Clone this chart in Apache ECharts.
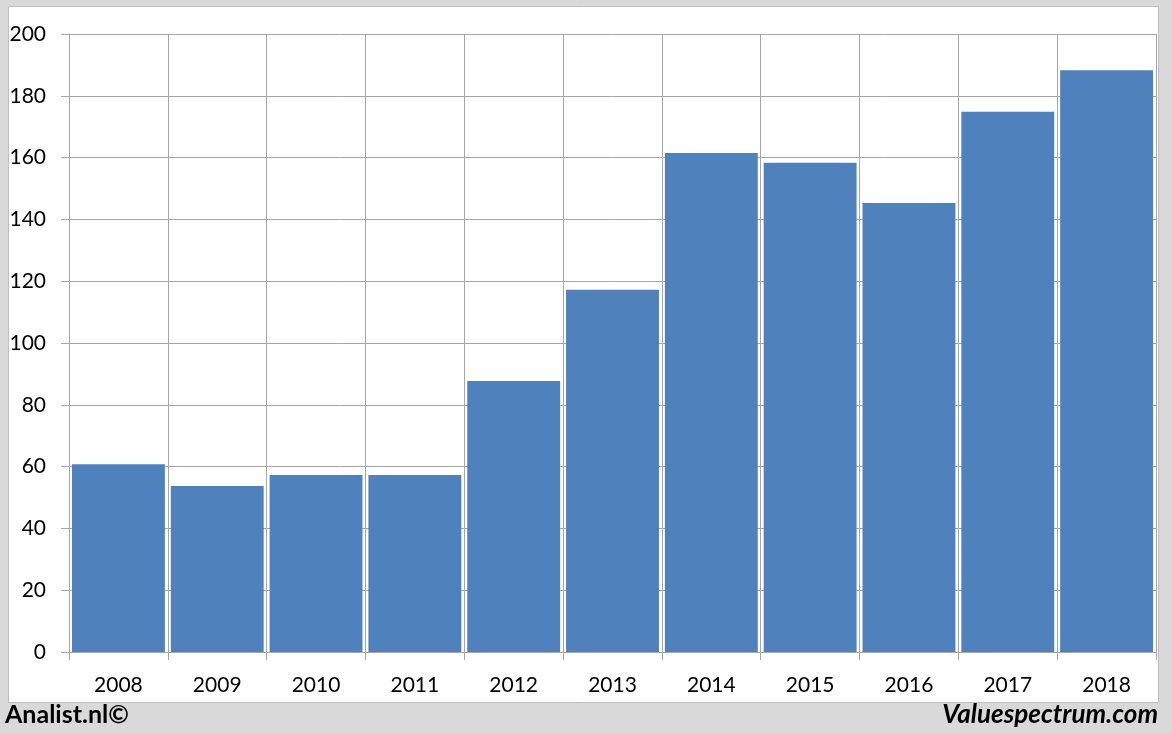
<!DOCTYPE html>
<html><head><meta charset="utf-8">
<script src="https://cdn.jsdelivr.net/npm/echarts@6/dist/echarts.min.js"></script>
<style>html,body{margin:0;padding:0;background:#d9d9d9;}#c{width:1172px;height:734px;}</style>
</head><body><div id="c"></div>
<script>
var categories = ['2008','2009','2010','2011','2012','2013','2014','2015','2016','2017','2018'];
var values = [60.8, 53.7, 57.3, 57.3, 87.7, 117.2, 161.5, 158.3, 145.3, 174.8, 188.3];
var yTicks = [0, 20, 40, 60, 80, 100, 120, 140, 160, 180, 200];
var leftCredit = 'Analist.nl©';
var rightCredit = 'Valuespectrum.com';

var chart = echarts.init(document.getElementById('c'), null, {renderer: 'canvas'});
var font = 'Lato, "Open Sans", sans-serif';
chart.setOption({
  backgroundColor: '#d9d9d9',
  animation: false,
  graphic: [
    {type: 'rect', z: -10, shape: {x: 8.5, y: 6.5, width: 1150, height: 696}, style: {fill: '#ffffff', stroke: '#bfbfbf', lineWidth: 1}},
    {type: 'text', left: 5, top: 702, style: {text: leftCredit, font: 'bold 25px ' + font, fill: '#000'}},
    {type: 'text', right: 14, top: 702, style: {text: rightCredit, font: 'italic bold 26px ' + font, fill: '#000'}}
  ],
  grid: {left: 69, right: 16, top: 34, bottom: 82, show: false},
  xAxis: {
    type: 'category', data: categories, boundaryGap: true,
    axisLine: {show: true, lineStyle: {color: '#a6a6a6', width: 1}},
    axisTick: {show: true, length: 8, alignWithLabel: false, lineStyle: {color: '#a6a6a6'}},
    axisLabel: {color: '#000', fontSize: 21, fontFamily: font, margin: 23},
    splitLine: {show: true, lineStyle: {color: '#a6a6a6', width: 1}}
  },
  yAxis: {
    type: 'value', min: 0, max: 200, interval: 20,
    axisLine: {show: true, lineStyle: {color: '#a6a6a6', width: 1}},
    axisTick: {show: true, length: 8, lineStyle: {color: '#a6a6a6'}},
    axisLabel: {color: '#000', fontSize: 21, fontFamily: font, margin: 23,
      formatter: function (v) { return yTicks.indexOf(v) >= 0 ? String(v) : ''; }},
    splitLine: {show: true, lineStyle: {color: '#a6a6a6', width: 1}}
  },
  series: [{
    type: 'bar', data: values, barCategoryGap: '6%',
    itemStyle: {color: '#4f81bd'}
  }]
});
</script></body></html>
